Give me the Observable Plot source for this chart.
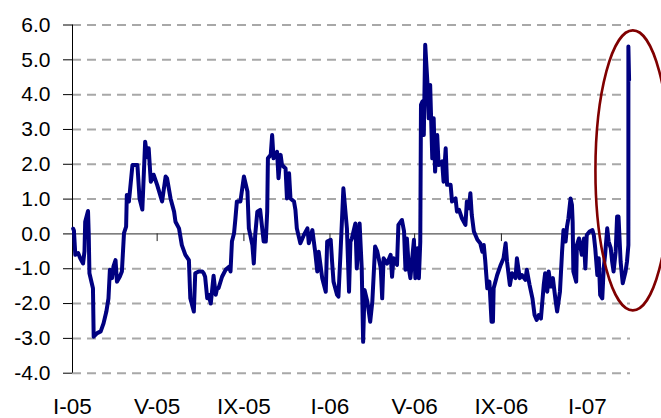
<!DOCTYPE html>
<html>
<head>
<meta charset="utf-8">
<script src="https://cdn.jsdelivr.net/npm/d3@7"></script>
<script src="https://cdn.jsdelivr.net/npm/@observablehq/plot@0.6"></script>
<style>
  html, body { margin: 0; padding: 0; background: #fff; }
  #chart svg { display: block; }
</style>
</head>
<body>
<div id="chart"></div>
<script>
// ---- data ----
const startDate = new Date(2005, 0, 1);
const endDayOffset = 791;
const dayOffsets = [1,2,4,8,11,15,17,18,22,23,24,29,30,35,40,44,48,51,53,56,58,61,63,67,70,73,76,77,80,85,92,95,99,103,106,108,111,115,120,127,132,134,139,144,146,151,155,160,165,167,172,174,179,184,186,188,191,193,196,200,203,205,207,212,217,222,224,226,229,231,233,238,243,248,250,255,257,259,262,266,271,274,276,277,281,283,285,290,292,295,297,302,304,307,309,314,316,318,323,328,333,335,340,344,347,349,354,359,361,366,368,370,375,377,380,384,389,392,394,396,401,403,407,410,412,414,418,420,422,425,429,432,437,439,441,446,451,453,455,460,462,467,470,472,474,477,479,484,486,489,491,493,494,496,498,500,503,505,507,510,512,514,517,519,524,526,529,531,536,538,543,545,548,552,557,559,562,564,566,569,574,578,581,583,585,588,591,594,596,597,602,607,611,614,616,620,623,628,630,634,637,642,644,648,652,655,658,661,664,668,670,673,675,678,681,685,687,691,694,696,699,701,703,706,708,709,710,714,715,718,722,725,727,729,733,737,739,741,744,746,748,751,753,755,758,760,763,765,767,770,772,774,777,780,784,786,788,788,789];
const values = [0.15,0.1,-0.6,-0.55,-0.7,-0.85,-0.5,0.35,0.66,0.0,-1.13,-1.56,-2.95,-2.85,-2.8,-2.57,-2.23,-1.85,-1.03,-1.27,-0.94,-0.75,-1.37,-1.23,-1.08,0.02,0.21,1.12,0.93,1.98,1.98,1.02,0.7,2.65,2.2,2.46,1.5,1.7,1.41,0.93,1.65,1.6,1.02,0.64,0.35,0.16,-0.32,-0.6,-0.75,-1.85,-2.23,-1.13,-1.08,-1.08,-1.13,-1.23,-1.85,-1.75,-2.0,-1.2,-1.75,-1.56,-1.56,-1.23,-1.03,-0.94,-1.08,-0.22,0.02,0.45,0.93,0.93,1.65,1.22,0.16,-0.32,-0.85,-0.03,0.64,0.69,-0.22,-0.22,0.64,2.17,2.27,2.84,2.17,2.36,1.6,2.27,1.98,1.88,1.02,1.74,1.02,0.93,0.69,0.16,-0.27,-0.03,0.16,-0.27,0.11,-0.51,-1.08,-0.51,-1.27,-1.66,-0.22,-0.17,-0.8,-1.37,-1.75,-1.8,-0.51,1.31,0.16,-1.66,-0.22,-0.13,0.3,-0.99,0.3,-0.99,-3.1,-1.61,-1.95,-2.23,-2.52,-1.95,-0.36,-0.5,-0.99,-1.85,-0.7,-0.85,-0.6,-1.23,-0.7,-0.89,0.26,0.4,0.07,-1.03,-0.13,-1.03,-1.27,-0.17,-1.27,-0.41,-1.27,-0.22,3.71,3.8,2.84,5.43,4.38,3.32,4.28,2.17,3.32,1.79,2.84,1.98,2.08,1.5,2.46,1.41,1.41,0.93,1.02,0.64,0.69,0.45,0.26,0.93,0.74,1.17,0.54,0.07,-0.17,-0.27,-0.51,-0.32,-0.75,-1.56,-1.37,-2.52,-2.52,-1.56,-1.18,-0.89,-0.7,-0.27,-0.8,-1.47,-1.13,-1.27,-0.7,-1.27,-1.18,-1.32,-1.03,-1.47,-1.85,-2.33,-2.47,-2.33,-2.43,-1.47,-1.13,-1.66,-1.08,-1.51,-1.27,-1.95,-2.23,-1.66,-0.51,0.11,-0.22,0.21,0.45,1.02,0.83,0.35,-1.08,-1.37,-0.32,-0.13,-0.6,-0.13,-0.99,-0.03,0.07,0.11,-0.03,-0.41,-1.18,-0.7,-1.75,-1.85,-0.99,-0.6,0.16,-0.22,-0.41,-0.8,-1.08,-0.51,0.5,0.5,-0.8,-1.42,-1.08,-0.8,-0.32,5.38,4.42];

const tickDates = [new Date(2005,0,1), new Date(2005,4,1), new Date(2005,8,1), new Date(2006,0,1), new Date(2006,4,1), new Date(2006,8,1), new Date(2007,0,1)];
const tickLabels = ["I-05", "V-05", "IX-05", "I-06", "V-06", "IX-06", "I-07"];
const yTicks = [-4, -3, -2, -1, 0, 1, 2, 3, 4, 5, 6];
const yDomain = [-4, 6];

// highlight ellipse annotation (in data units)
const ellipseCenterDay = [795];
const ellipseCenterValue = [1.81];
const ellipseRadiusDays = [53];
const ellipseRadiusValue = [4.02];

// ---- build ----
const n = Math.min(dayOffsets.length, values.length);
const series = d3.range(n).map(i => ({date: d3.timeDay.offset(startDate, dayOffsets[i]), value: values[i]}));
const labelByTime = new Map(tickDates.map((d, i) => [+d, tickLabels[i]]));
const endDate = d3.timeDay.offset(startDate, endDayOffset);

const chart = Plot.plot({
  width: 661,
  height: 418,
  marginLeft: 72,
  marginRight: 31,
  marginTop: 24.5,
  marginBottom: 45.3,
  style: {fontFamily: "'Liberation Sans', Arial, sans-serif", color: "#000", background: "#fff", overflow: "hidden"},
  x: {type: "time", domain: [startDate, endDate], label: null},
  y: {domain: yDomain, label: null},
  marks: [
    Plot.ruleY(yTicks.filter(d => d !== 0), {stroke: "#a8a8a8", strokeWidth: 2, strokeDasharray: "9,6"}),
    Plot.ruleY([0], {stroke: "#555", strokeWidth: 1.4}),
    Plot.ruleX(tickDates.slice(1), {y1: 0, y2: -0.22, stroke: "#222", strokeWidth: 1}),
    Plot.ruleX([startDate], {y1: yDomain[0], y2: yDomain[1], stroke: "#000", strokeWidth: 1}),
    Plot.axisY(yTicks, {tickSize: 9, tickPadding: 13, fontSize: 21, tickFormat: d => d.toFixed(1), stroke: "#000", label: null}),
    Plot.axisX(tickDates, {tickSize: 0, tickPadding: 25, fontSize: 22.5, tickFormat: d => labelByTime.get(+d), label: null}),
    Plot.line(series, {x: "date", y: "value", stroke: "#000080", strokeWidth: 4, strokeLinejoin: "round", strokeLinecap: "round"})
  ]
});

// ellipse annotation positioned through the chart's scales
const xs = chart.scale("x"), ys = chart.scale("y");
const cx = xs.apply(d3.timeDay.offset(startDate, ellipseCenterDay[0]));
const rx = xs.apply(d3.timeDay.offset(startDate, ellipseCenterDay[0] + ellipseRadiusDays[0])) - cx;
const cy = ys.apply(ellipseCenterValue[0]);
const ry = ys.apply(ellipseCenterValue[0] - ellipseRadiusValue[0]) - cy;
d3.select(chart).append("ellipse")
  .attr("cx", cx).attr("cy", cy).attr("rx", rx).attr("ry", ry)
  .attr("fill", "none").attr("stroke", "#800000").attr("stroke-width", 2.6);

document.getElementById("chart").appendChild(chart);
</script>
</body>
</html>
